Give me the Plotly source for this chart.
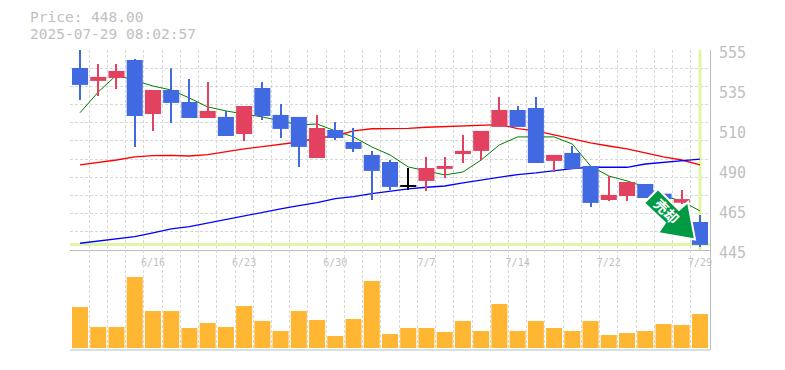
import plotly.graph_objects as go

dates = ["6/10","6/11","6/12","6/13","6/16","6/17","6/18","6/19","6/20","6/23",
         "6/24","6/25","6/26","6/27","6/30","7/1","7/2","7/3","7/4","7/7",
         "7/8","7/9","7/10","7/11","7/14","7/15","7/16","7/17","7/18","7/22",
         "7/23","7/24","7/25","7/28","7/29"]
opens = [545.1,538.0,539.6,549.5,519.8,533.0,526.4,517.6,518.2,508.8,
         534.1,519.3,518.2,495.6,511.0,504.4,497.3,493.4,480.0,483.0,
         489.6,497.8,499.5,512.7,522.0,523.1,494.0,498.4,491.2,472.5,
         474.7,481.3,476.0,471.0,460.4]
closes = [535.8,540.2,543.5,518.7,533.0,525.9,517.6,521.5,507.7,524.2,
          518.7,511.6,501.7,512.1,506.6,500.6,488.5,479.7,480.5,490.1,
          491.2,499.5,510.5,522.0,512.7,492.9,497.3,489.6,470.9,475.3,
          482.4,473.6,473.0,473.0,447.8]
highs = [555.0,547.3,547.3,550.0,533.0,545.0,539.0,537.4,521.5,524.2,
         537.4,525.3,518.2,519.3,515.4,512.1,499.5,494.5,490.1,496.2,
         496.2,508.3,510.5,529.2,524.2,529.2,497.3,502.2,491.2,485.7,
         482.4,481.3,476.0,478.0,464.3]
lows = [527.5,529.7,533.5,501.7,510.5,514.9,517.6,517.6,507.7,505.0,
        516.5,506.6,490.7,495.6,505.5,498.9,472.5,478.0,478.0,477.5,
        484.6,492.9,494.5,512.7,512.7,492.9,487.9,489.6,468.7,472.0,
        472.0,473.6,473.0,470.3,446.7]
ma_short = [520.5,531.9,541.2,538.0,535.2,533.0,528.6,523.7,521.5,519.8,
            518.2,516.0,513.8,514.3,510.5,507.2,501.7,497.3,490.7,488.5,
            486.3,487.9,494.5,502.8,507.2,507.2,507.2,503.3,491.2,485.7,
            483.0,479.7,474.7,472.0,466.5]
ma_mid = [491.8,493.1,494.5,496.2,496.9,497.0,496.7,497.5,499.2,500.6,
          501.9,503.0,504.4,506.6,507.7,510.5,511.7,511.8,511.9,512.5,
          512.9,513.4,513.8,514.0,511.8,510.5,508.3,506.0,503.9,502.2,
          500.6,498.4,496.2,494.5,491.8]
ma_long = [448.7,450.0,451.2,452.3,454.4,456.6,457.9,459.9,461.8,463.7,
           465.6,467.6,469.4,471.1,473.3,474.4,476.0,477.5,478.6,479.5,
           480.2,481.9,483.5,484.9,486.5,487.4,488.7,489.8,490.5,490.5,
           490.5,492.3,493.2,494.2,495.0]
volumes = [41,21,21,71,37,37,20,25,21,42,27,17,37,28,12,29,67,14,
           20,20,16,27,17,44,17,27,20,17,27,13,15,17,24,23,34]
last_price = 448.0
price_ticks = [555,533,511,489,467,445]
price_labels = ["555","535","510","490","465","445"]
date_tick_idx = [4,9,14,19,24,29,34]

TXT = "#c0c0c0"; GRID = "#d8d8d8"; FRAME = "#bdbdbd"; HL = "#e0f5a5"
BLUE = "#4169e1"; RED = "#e2425f"; VOL = "#ffb733"; MONO = "DejaVu Sans Mono, monospace"
W, T, R, B = 640, 50, 710, 350
xs = list(range(len(dates)))
colors = ["#000000" if abs(c-o) < 0.6 else (RED if c > o else BLUE) for o, c in zip(opens, closes)]

fig = go.Figure()
# reference lines and moving averages, underneath the candles
fig.add_trace(go.Scatter(x=[-0.55, 34.55], y=[last_price]*2, mode="lines", line=dict(color=HL, width=3), yaxis="y"))
fig.add_trace(go.Scatter(x=[34, 34], y=[445, 555], mode="lines", line=dict(color=HL, width=3), yaxis="y"))
for s, c, w in ((ma_short, "#008000", 1), (ma_mid, "#ff0000", 1.3), (ma_long, "#0000ff", 1.3)):
    fig.add_trace(go.Scatter(x=xs, y=s, mode="lines", line=dict(color=c, width=w), yaxis="y"))
# candles: wicks then bodies
fig.add_trace(go.Bar(x=xs, base=lows, y=[h-l for h, l in zip(highs, lows)], width=0.06,
                     marker=dict(color=colors, line=dict(width=0)), yaxis="y3"))
fig.add_trace(go.Bar(x=xs, base=[min(o, c) for o, c in zip(opens, closes)],
                     y=[abs(o-c) for o, c in zip(opens, closes)], width=0.88,
                     marker=dict(color=colors, line=dict(width=0)), yaxis="y3"))
fig.add_trace(go.Bar(x=xs, y=volumes, width=0.88, marker=dict(color=VOL, line=dict(width=0)), yaxis="y2"))

def px(points):
    return "M" + " L".join(f"{(x-70)/W:.5f},{(B-y)/300:.5f}" for x, y in points) + " Z"

arrow = [(658,189),(644,203),(665,223),(658,233),(695,239.5),(688,202),(679,210)]

def note(text, X, Y, size, color, xanchor="center", family=MONO, **kw):
    return dict(text=text, xref="paper", yref="paper", x=(X-70)/W, y=(B-Y)/300, showarrow=False,
                xanchor=xanchor, yanchor="middle", font=dict(size=size, color=color, family=family), **kw)

fig.update_layout(
    width=777, height=362, margin=dict(l=62, r=75, t=42, b=20, pad=0, autoexpand=False), showlegend=False,
    paper_bgcolor="white", plot_bgcolor="white", barmode="overlay", hovermode=False,
    xaxis=dict(anchor="y", range=[-0.55, 34.55], tickmode="array", tickvals=date_tick_idx,
               ticktext=[dates[i] for i in date_tick_idx], showgrid=False, zeroline=False, ticks="",
               showline=True, linecolor=FRAME, linewidth=1, ticklabelstandoff=3, automargin=False,
               tickfont=dict(size=10, color=TXT, family=MONO),
               minor=dict(tickmode="array", tickvals=[i-0.5 for i in range(36)], showgrid=True,
                          gridcolor=GRID, griddash="3px,2px", gridwidth=1, ticks="")),
    yaxis=dict(domain=[1/3, 1], range=[445, 555], side="right", tickmode="array", tickvals=price_ticks,
               ticktext=price_labels, showgrid=False, zeroline=False, ticks="", showline=True,
               linecolor=FRAME, linewidth=1, ticklabelshift=3, ticklabelstandoff=5, automargin=False,
               tickfont=dict(size=15, color=TXT, family=MONO),
               minor=dict(tickmode="array", tickvals=list(range(445, 556, 10)), showgrid=True,
                          gridcolor=GRID, griddash="3px,2px", gridwidth=1, ticks="")),
    yaxis2=dict(domain=[0, 1/3], range=[-2, 98], side="right", showgrid=False, zeroline=False,
                showticklabels=False, ticks="", showline=True, linecolor=FRAME, linewidth=1),
    yaxis3=dict(overlaying="y", range=[445, 555], side="right", showgrid=False, zeroline=False,
                showticklabels=False, ticks=""),
    shapes=[
        dict(type="line", xref="paper", yref="paper", x0=0, x1=1, y0=0, y1=0, line=dict(color=FRAME, width=1)),
        dict(type="path", xref="paper", yref="paper", path=px(arrow), fillcolor="#009944",
             line=dict(color="white", width=2)),
    ],
    annotations=[
        note("Price: 448.00", 28, 17, 14.5, TXT, xanchor="left"),
        note("2025-07-29 08:02:57", 28, 34, 14.5, TXT, xanchor="left"),
        note("<b>売却</b>", 667, 211, 14, "white", family="Noto Sans CJK JP", textangle=45),
    ],
)
fig.write_html("out.html")
